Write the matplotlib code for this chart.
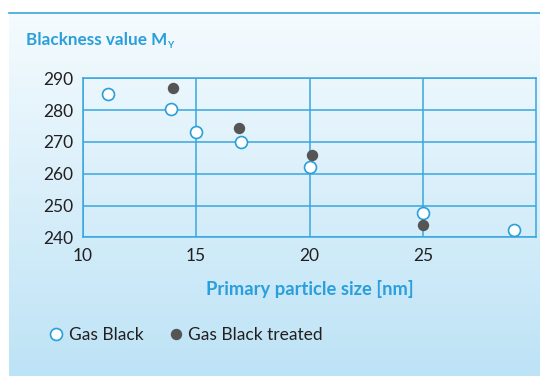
import numpy as np
import matplotlib.pyplot as plt
from matplotlib.colors import LinearSegmentedColormap
from matplotlib.lines import Line2D

# data
gas_x = [11.1, 13.9, 15.0, 17.0, 20.0, 25.0, 29.0]
gas_y = [285.0, 280.5, 273.0, 270.0, 262.0, 247.5, 242.2]
treated_x = [14.0, 16.9, 20.1, 25.0]
treated_y = [287.0, 274.5, 266.0, 244.0]
xticks = [10, 15, 20, 25]
yticks = [240, 250, 260, 270, 280, 290]

blue = '#2a9fdb'
line_blue = '#3aa6dd'
dark = '#555555'
text_col = '#231f20'

plt.rcParams['font.family'] = ['Lato', 'DejaVu Sans']

fig = plt.figure(figsize=(5.4, 3.76), dpi=100)

# gradient background panel
W, H = 540, 376
bg = fig.add_axes([9 / W, 0, 1 - 9 / W, 1 - 13 / H], zorder=0)
cmap = LinearSegmentedColormap.from_list('bg', ['#f5fbfe', '#bde3f6'])
grad = np.linspace(0, 1, 256).reshape(-1, 1)
bg.imshow(grad, aspect='auto', cmap=cmap, extent=[0, 1, 0, 1], origin='upper')
bg.set_axis_off()
fig.add_artist(Line2D([9 / W, 1], [1 - 13 / H, 1 - 13 / H], color=line_blue, lw=1.2))

ax = fig.add_axes([82.7 / W, 1 - 237.3 / H, (536.3 - 82.7) / W, (237.3 - 78.3) / H], zorder=1)
ax.patch.set_visible(False)

ax.plot(gas_x, gas_y, 'o', ms=8.6, mfc='white', mec=blue, mew=1.2,
        label='Gas Black', zorder=3, clip_on=False)
ax.plot(treated_x, treated_y, 'o', ms=8.2, mfc=dark, mec=dark, mew=0,
        label='Gas Black treated', zorder=3, clip_on=False)

ax.set_xlim(10, 30)
ax.set_ylim(240, 290)
ax.set_xticks(xticks)
ax.set_yticks(yticks)
ax.tick_params(length=0, labelsize=12.5, colors=text_col)
ax.tick_params(axis='x', pad=8)
ax.tick_params(axis='y', pad=7)
ax.grid(True, color=line_blue, lw=1.1)
for s in ax.spines.values():
    s.set_color(line_blue)
    s.set_linewidth(1.1)

ax.set_xlabel('Primary particle size [nm]', color=blue, fontsize=13.2,
              fontweight='bold', labelpad=11)

# title with a small subscript Y placed right after the main text
title = fig.text(26 / W, 1 - 40 / H, 'Blackness value M', color=blue,
                 fontsize=12.3, fontweight='bold', va='center', ha='left')
renderer = fig.canvas.get_renderer()
bb = title.get_window_extent(renderer)
fig.text(bb.x1 - 0.5, bb.y0 - 2, 'Y', color=blue, fontsize=7,
         fontweight='bold', va='bottom', ha='left', transform=None)

fig.legend(loc='center left', bbox_to_anchor=(39 / W, 1 - 335 / H), ncol=2,
           frameon=False, fontsize=12.5, handletextpad=0.2, columnspacing=1.4,
           handlelength=1.0, labelcolor=text_col, borderpad=0)

fig.savefig('out.png', dpi=100)
